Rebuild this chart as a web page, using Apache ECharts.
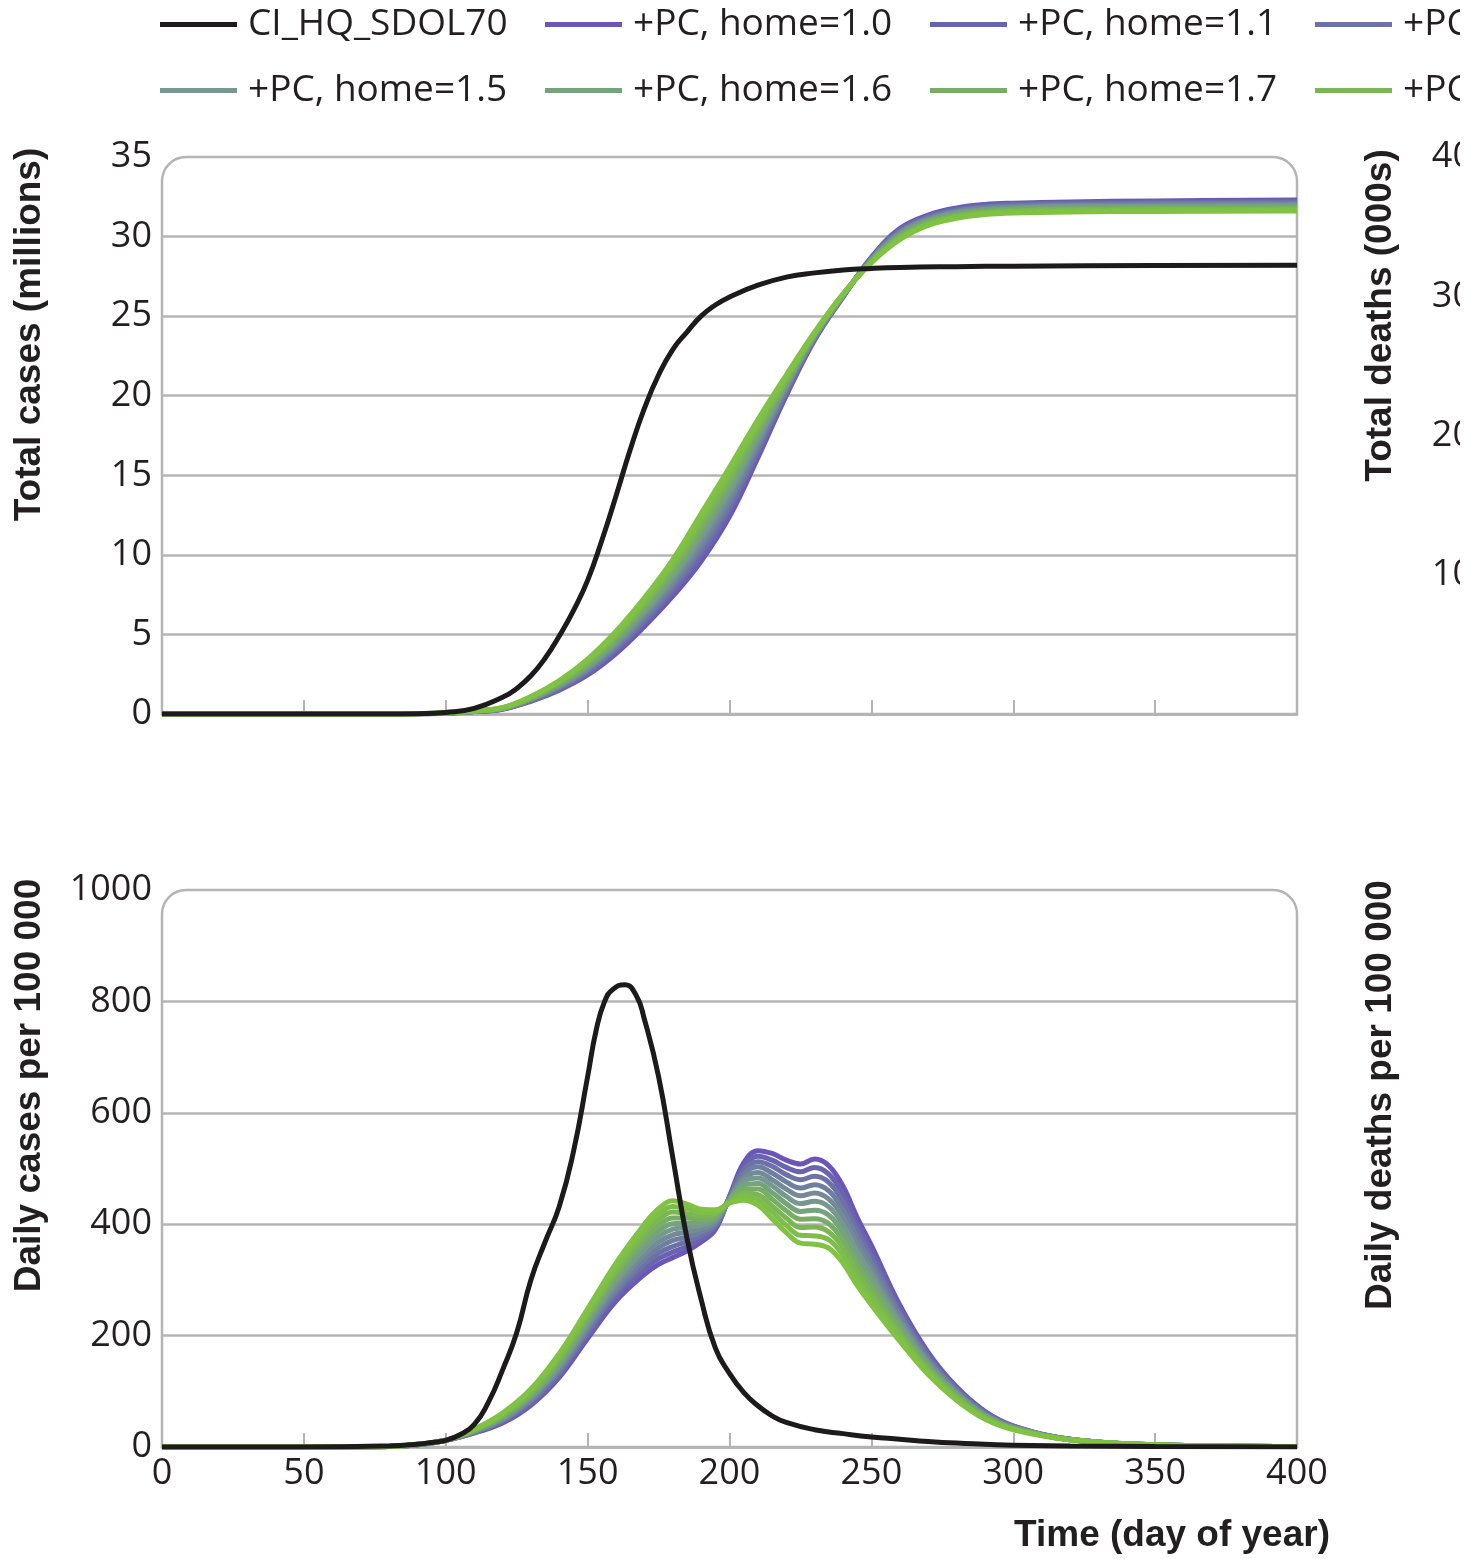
<!DOCTYPE html>
<html>
<head>
<meta charset="utf-8">
<script src="https://cdn.jsdelivr.net/npm/echarts@6/dist/echarts.min.js"></script>
<style>
  html, body { margin: 0; padding: 0; background: #fff; }
  #chart { width: 1473px; height: 1559px; }
</style>
</head>
<body>
<div id="chart"></div>
<script>
// x values (day of year)
const cumDays = [0, 50, 80, 90, 100, 110, 120, 130, 140, 150, 160, 170, 180, 190, 200, 210, 220, 230, 240, 250, 260, 270, 280, 290, 300, 320, 350, 400];
const baseTotalDays = [0, 50, 80, 90, 100, 110, 120, 125, 130, 135, 140, 145, 150, 155, 160, 165, 170, 175, 180, 185, 190, 195, 200, 210, 220, 230, 240, 250, 260, 280, 300, 350, 400];
const dailyDays = [0, 50, 80, 90, 100, 110, 120, 130, 140, 150, 160, 170, 175, 180, 185, 190, 195, 200, 205, 210, 215, 220, 225, 230, 235, 240, 245, 250, 260, 270, 280, 290, 300, 320, 350, 400];
const baseDailyDays = [0, 50, 80, 90, 95, 100, 105, 110, 115, 120, 125, 130, 135, 140, 145, 150, 153, 156, 159, 163, 167, 170, 175, 180, 185, 190, 195, 200, 205, 210, 215, 220, 230, 240, 250, 260, 270, 280, 290, 300, 320, 350, 400];

// tick labels
const dayTicks = [0, 50, 100, 150, 200, 250, 300, 350, 400];
const totalTicks = [0, 5, 10, 15, 20, 25, 30, 35];
const dailyTicks = [0, 200, 400, 600, 800, 1000];
const deathTicks = [0, 10, 20, 30, 40];

const baselineName = "CI_HQ_SDOL70";
const homeLevels = ["1.0", "1.1", "1.2", "1.3", "1.4", "1.5", "1.6", "1.7", "1.8", "1.9", "2.0"];

// total cases (millions)
const baselineTotal = [0, 0, 0, 0.02, 0.1, 0.35, 1.05, 1.6, 2.4, 3.5, 4.9, 6.5, 8.4, 10.9, 13.7, 16.6, 19.2, 21.3, 22.9, 24.0, 25.0, 25.7, 26.2, 26.95, 27.45, 27.72, 27.9, 28.0, 28.06, 28.11, 28.14, 28.18, 28.2];
const totalHome10 = [0, 0, 0, 0.01, 0.05, 0.15, 0.3, 0.8, 1.5, 2.45, 3.8, 5.5, 7.4, 9.6, 12.4, 16.1, 20.0, 23.5, 26.2, 28.7, 30.5, 31.35, 31.8, 32.02, 32.1, 32.18, 32.24, 32.3];
const totalHome11 = [0, 0, 0, 0.01, 0.05, 0.16, 0.31, 0.83, 1.56, 2.55, 3.94, 5.68, 7.63, 9.9, 12.71, 16.34, 20.13, 23.55, 26.22, 28.67, 30.43, 31.29, 31.74, 31.96, 32.04, 32.12, 32.17, 32.23];
const totalHome12 = [0, 0, 0, 0.01, 0.06, 0.16, 0.32, 0.86, 1.62, 2.65, 4.08, 5.86, 7.86, 10.2, 13.02, 16.58, 20.26, 23.6, 26.24, 28.63, 30.36, 31.22, 31.67, 31.89, 31.98, 32.05, 32.11, 32.16];
const totalHome13 = [0, 0, 0, 0.01, 0.06, 0.17, 0.33, 0.89, 1.68, 2.75, 4.22, 6.04, 8.09, 10.5, 13.33, 16.82, 20.39, 23.65, 26.26, 28.6, 30.29, 31.16, 31.61, 31.83, 31.92, 31.99, 32.04, 32.09];
const totalHome14 = [0, 0, 0, 0.01, 0.06, 0.17, 0.34, 0.92, 1.74, 2.85, 4.36, 6.22, 8.32, 10.8, 13.64, 17.06, 20.52, 23.7, 26.28, 28.56, 30.22, 31.09, 31.54, 31.76, 31.85, 31.93, 31.97, 32.02];
const totalHome15 = [0, 0, 0, 0.02, 0.07, 0.18, 0.35, 0.95, 1.8, 2.95, 4.5, 6.4, 8.55, 11.1, 13.95, 17.3, 20.65, 23.75, 26.3, 28.53, 30.15, 31.03, 31.48, 31.7, 31.79, 31.87, 31.91, 31.95];
const totalHome16 = [0, 0, 0, 0.02, 0.07, 0.18, 0.36, 0.98, 1.86, 3.05, 4.64, 6.58, 8.78, 11.4, 14.26, 17.54, 20.78, 23.8, 26.32, 28.49, 30.08, 30.96, 31.41, 31.64, 31.73, 31.8, 31.84, 31.88];
const totalHome17 = [0, 0, 0, 0.02, 0.07, 0.18, 0.37, 1.01, 1.92, 3.15, 4.78, 6.76, 9.01, 11.7, 14.57, 17.78, 20.91, 23.85, 26.34, 28.46, 30.01, 30.9, 31.35, 31.57, 31.67, 31.74, 31.77, 31.81];
const totalHome18 = [0, 0, 0, 0.02, 0.07, 0.19, 0.38, 1.04, 1.98, 3.25, 4.92, 6.94, 9.24, 12.0, 14.88, 18.02, 21.04, 23.9, 26.36, 28.42, 29.94, 30.83, 31.28, 31.51, 31.6, 31.68, 31.71, 31.74];
const totalHome19 = [0, 0, 0, 0.02, 0.08, 0.19, 0.39, 1.07, 2.04, 3.35, 5.06, 7.12, 9.47, 12.3, 15.19, 18.26, 21.17, 23.95, 26.38, 28.39, 29.87, 30.77, 31.22, 31.44, 31.54, 31.61, 31.64, 31.67];
const totalHome20 = [0, 0, 0, 0.02, 0.08, 0.2, 0.4, 1.1, 2.1, 3.45, 5.2, 7.3, 9.7, 12.6, 15.5, 18.5, 21.3, 24.0, 26.4, 28.35, 29.8, 30.7, 31.15, 31.38, 31.48, 31.55, 31.58, 31.6];

// daily cases per 100 000
const baselineDaily = [0, 0, 2, 5, 8, 12, 22, 40, 80, 138, 205, 300, 368, 432, 530, 665, 748, 800, 822, 830, 812, 768, 665, 520, 375, 265, 178, 132, 98, 74, 56, 44, 31, 24, 18, 14, 10, 7, 5, 3, 2, 1, 0];
const dailyHome10 = [0, 0, 1, 4, 12, 25, 43, 75, 125, 195, 262, 310, 328, 340, 352, 368, 390, 450, 510, 532, 527, 515, 508, 517, 505, 468, 412, 362, 255, 170, 108, 64, 38, 14, 4, 1];
const dailyHome11 = [0, 0, 1, 4, 12, 26, 45, 78, 129, 200, 269, 319, 338, 350, 360, 374, 394, 449, 503, 522, 515, 502, 494, 502, 490, 454, 400, 351, 249, 166, 106, 63, 37, 14, 4, 1];
const dailyHome12 = [0, 0, 1, 4, 12, 26, 47, 81, 134, 206, 276, 328, 348, 360, 369, 380, 397, 448, 497, 512, 504, 489, 480, 486, 475, 440, 388, 341, 242, 162, 103, 61, 37, 14, 4, 1];
const dailyHome13 = [0, 0, 1, 4, 12, 27, 48, 84, 138, 211, 282, 337, 358, 371, 377, 386, 401, 446, 490, 503, 492, 476, 465, 471, 460, 426, 376, 330, 236, 158, 101, 60, 36, 14, 4, 1];
const dailyHome14 = [0, 0, 1, 4, 12, 28, 50, 87, 142, 216, 289, 346, 368, 381, 386, 392, 404, 445, 483, 493, 480, 463, 451, 456, 445, 413, 363, 319, 229, 154, 98, 58, 35, 14, 4, 1];
const dailyHome15 = [0, 0, 1, 4, 12, 28, 52, 90, 146, 222, 296, 355, 378, 391, 394, 398, 408, 444, 477, 483, 469, 450, 437, 441, 431, 399, 351, 309, 223, 150, 96, 57, 35, 13, 4, 1];
const dailyHome16 = [0, 0, 1, 5, 12, 29, 54, 92, 151, 227, 303, 364, 388, 401, 402, 403, 412, 443, 470, 473, 457, 437, 423, 425, 416, 385, 339, 298, 216, 146, 94, 56, 34, 13, 4, 1];
const dailyHome17 = [0, 0, 1, 5, 12, 30, 56, 95, 155, 232, 310, 373, 398, 411, 411, 409, 415, 442, 463, 463, 445, 424, 409, 410, 401, 371, 327, 287, 210, 142, 91, 54, 33, 13, 4, 1];
const dailyHome18 = [0, 0, 1, 5, 12, 30, 57, 98, 159, 237, 316, 382, 408, 422, 419, 415, 419, 440, 456, 453, 433, 411, 394, 395, 386, 358, 315, 276, 203, 138, 89, 53, 33, 13, 4, 1];
const dailyHome19 = [0, 0, 1, 5, 12, 31, 59, 101, 164, 243, 323, 391, 418, 432, 428, 421, 422, 439, 450, 444, 422, 398, 380, 379, 372, 344, 302, 266, 197, 134, 86, 51, 32, 13, 4, 1];
const dailyHome20 = [0, 0, 1, 5, 12, 32, 61, 104, 168, 248, 330, 400, 428, 442, 436, 427, 426, 438, 443, 434, 410, 385, 366, 364, 357, 330, 290, 255, 190, 130, 84, 50, 31, 13, 4, 1];

const totalRows = [totalHome10, totalHome11, totalHome12, totalHome13, totalHome14, totalHome15, totalHome16, totalHome17, totalHome18, totalHome19, totalHome20];
const dailyRows = [dailyHome10, dailyHome11, dailyHome12, dailyHome13, dailyHome14, dailyHome15, dailyHome16, dailyHome17, dailyHome18, dailyHome19, dailyHome20];

// 样式
const pcColors = ["#6a55b8", "#6a63b0", "#6c71a8", "#6f7fa0", "#728b97", "#77988f", "#74a37c", "#77ad64", "#7bb655", "#7ebd4a", "#80c242"];
const baseColor = "#1c1a1b";
const textColor = "#231f20";
const gridColor = "#b4b4b4";
const PLOT = { left: 162, width: 1135, height: 557, tops: [157, 890], rightLeft: 1483 };
const LEGEND = { left: 160, slot: 385, tops: [6, 72], perRow: 6 };

const pair = (xs, ys) => xs.map((x, i) => [x, ys[i]]);
const pcName = (h) => "+PC, home=" + h;

const tickFont = { fontFamily: "'Open Sans', 'DejaVu Sans', sans-serif", fontSize: 36, color: textColor };
const nameFont = (pad) => ({
  fontFamily: "'Liberation Sans', Arial, sans-serif",
  fontWeight: "bold",
  fontSize: 37,
  color: textColor,
  padding: [0, 0, 0, pad],
});

const xAxisBase = (grid, showLabel) => ({
  type: "value",
  gridIndex: grid,
  min: dayTicks[0],
  max: dayTicks[dayTicks.length - 1],
  interval: dayTicks[1] - dayTicks[0],
  axisLine: { lineStyle: { color: gridColor, width: 2.5 } },
  axisTick: { show: true, inside: true, length: 14, lineStyle: { color: gridColor, width: 2 } },
  axisLabel: Object.assign({ show: showLabel, margin: 9 }, tickFont),
  splitLine: { show: false },
});

const yAxisBase = (grid, ticks, name, gap, pad) => ({
  type: "value",
  gridIndex: grid,
  min: ticks[0],
  max: ticks[ticks.length - 1],
  interval: ticks[1] - ticks[0],
  name: name,
  nameLocation: "middle",
  nameGap: gap,
  nameTextStyle: nameFont(pad),
  axisLine: { show: false },
  axisTick: { show: false },
  axisLabel: Object.assign({ margin: 10, formatter: (v) => String(v) }, tickFont),
  splitLine: { show: true, showMaxLine: false, lineStyle: { color: gridColor, width: 2.5 } },
});

const series = [];
[0, 1].forEach((g) => {
  homeLevels.forEach((h, k) => {
    const ys = g === 0 ? totalRows[k] : dailyRows[k];
    const xs = g === 0 ? cumDays : dailyDays;
    series.push({
      type: "line",
      name: pcName(h),
      xAxisIndex: g,
      yAxisIndex: g,
      data: pair(xs, ys),
      showSymbol: false,
      symbol: "none",
      smooth: 0.4,
      lineStyle: { color: pcColors[k], width: 5 },
      itemStyle: { color: pcColors[k] },
    });
  });
  series.push({
    type: "line",
    name: baselineName,
    xAxisIndex: g,
    yAxisIndex: g,
    data: g === 0 ? pair(baseTotalDays, baselineTotal) : pair(baseDailyDays, baselineDaily),
    showSymbol: false,
    symbol: "none",
    smooth: 0.5,
    lineStyle: { color: baseColor, width: 5 },
    itemStyle: { color: baseColor },
  });
});

// one legend per item so every entry sits in a fixed slot
const legendNames = [baselineName].concat(homeLevels.map(pcName));
const legends = legendNames.map((name, i) => ({
  data: [name],
  left: LEGEND.left + (i % LEGEND.perRow) * LEGEND.slot,
  top: LEGEND.tops[Math.floor(i / LEGEND.perRow)],
  padding: 0,
  icon: "rect",
  itemWidth: 77,
  itemHeight: 5,
  selectedMode: false,
  textStyle: {
    fontFamily: "'Open Sans', 'DejaVu Sans', sans-serif",
    fontSize: 37,
    color: textColor,
    padding: [0, 0, 0, 6],
  },
}));

const frame = (top) => ({
  type: "rect",
  z: 1,
  shape: { x: PLOT.left, y: top, width: PLOT.width, height: PLOT.height, r: [24, 24, 0, 0] },
  style: { fill: null, stroke: gridColor, lineWidth: 2.5 },
});

const option = {
  animation: false,
  backgroundColor: "#fff",
  legend: legends,
  grid: [
    { left: PLOT.left, top: PLOT.tops[0], width: PLOT.width, height: PLOT.height },
    { left: PLOT.left, top: PLOT.tops[1], width: PLOT.width, height: PLOT.height },
    { left: PLOT.rightLeft, top: PLOT.tops[0], width: 1000, height: PLOT.height },
    { left: PLOT.rightLeft, top: PLOT.tops[1], width: 1000, height: PLOT.height },
  ],
  xAxis: [
    xAxisBase(0, false),
    Object.assign(xAxisBase(1, true), {
      name: "Time (day of year)",
      nameLocation: "end",
      nameGap: 33,
      nameTextStyle: Object.assign(nameFont(0), { align: "right", verticalAlign: "top", padding: [70, 0, 0, 0] }),
    }),
    { type: "value", gridIndex: 2, show: false, min: 0, max: 400 },
    { type: "value", gridIndex: 3, show: false, min: 0, max: 400 },
  ],
  yAxis: [
    yAxisBase(0, totalTicks, "Total cases (millions)", 114, 202),
    yAxisBase(1, dailyTicks, "Daily cases per 100 000", 114, 166),
    (() => {
      const ax = yAxisBase(2, deathTicks, "Total deaths (000s)", 84, 240);
      ax.axisLabel.showMinLabel = false;
      return ax;
    })(),
    Object.assign(yAxisBase(3, dailyTicks, "Daily deaths per 100 000", 84, 147), {
      axisLabel: { show: false },
    }),
  ],
  graphic: [
    frame(PLOT.tops[0]),
    frame(PLOT.tops[1]),
    // the source figure is cut off at the right edge
    { type: "rect", z: 100, left: 1460, top: 0, shape: { width: 20, height: 1559 }, style: { fill: "#fff" } },
  ],
  series: series,
};

const chart = echarts.init(document.getElementById("chart"));
chart.setOption(option);
</script>
</body>
</html>
